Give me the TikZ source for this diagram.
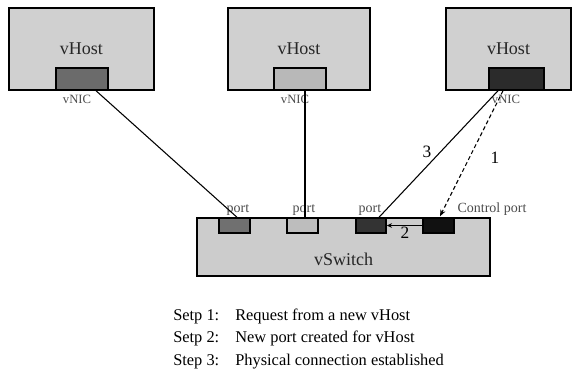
\documentclass[tikz,border=0pt]{standalone}
\usepackage{fontspec}
\setmainfont{Liberation Serif}
\usetikzlibrary{arrows.meta}

\definecolor{hostgray}{HTML}{D0D0D0}
\definecolor{switchgray}{HTML}{CCCCCC}
\definecolor{nicdark}{HTML}{6B6B6B}
\definecolor{niclight}{HTML}{B8B8B8}
\definecolor{nicblack}{HTML}{2B2B2B}
\definecolor{portdark}{HTML}{707070}
\definecolor{portlight}{HTML}{BDBDBD}
\definecolor{portblack}{HTML}{333333}
\definecolor{ctrlblack}{HTML}{111111}

\begin{document}
\begin{tikzpicture}[x=0.75pt, y=-0.75pt, >=Stealth,
    host/.style={draw, line width=1.1pt, fill=hostgray, minimum height=61.5pt, inner sep=0pt, font=\fontsize{13.5}{16}\selectfont, text=black!85},
    nic/.style={draw, line width=1.1pt, minimum width=39pt, minimum height=16.5pt, inner sep=0pt},
    portbox/.style={draw, line width=1.1pt, minimum width=23.25pt, minimum height=11.25pt, inner sep=0pt},
    tag/.style={inner sep=0pt, anchor=base, text=black!70, font=\fontsize{10.5}{12}\selectfont},
    digit/.style={inner sep=0pt, font=\fontsize{13}{15}\selectfont},
    steptext/.style={inner sep=0pt, anchor=base west, font=\fontsize{12.3}{15}\selectfont},
    link/.style={line width=0.8pt}]

        % Fix the page size
        \useasboundingbox (0,0) rectangle (582,379);

        % The three vHosts
        \node[host, minimum width=108.75pt] (hostA) at (81.5,49) {vHost};
        \node[host, minimum width=106.5pt] (hostB) at (299,49) {vHost};
        \node[host, minimum width=93.75pt] (hostC) at (508.5,49) {vHost};

        % vNICs at the bottom of each vHost
        \node[nic, fill=nicdark] (nicA) at (82,79) {};
        \node[nic, fill=niclight] (nicB) at (300,79) {};
        \node[nic, fill=nicblack, minimum width=41.25pt] (nicC) at (516.5,79) {};

        \node[tag, font=\fontsize{9.5}{11}\selectfont] (nicAtag) at (77,103) {vNIC};
        \node[tag, font=\fontsize{9.5}{11}\selectfont] (nicBtag) at (295,103) {vNIC};
        \node[tag, font=\fontsize{9.5}{11}\selectfont] (nicCtag) at (506,103) {vNIC};

        % The vSwitch with its ports
        \node[draw, line width=1.1pt, fill=switchgray, minimum width=219.75pt, minimum height=43.5pt, inner sep=0pt] (switch) at (343.5,247) {};
        \node[inner sep=0pt, anchor=base, font=\fontsize{13.5}{16}\selectfont, text=black!85] (switchtag) at (343.5,265) {vSwitch};

        \node[portbox, fill=portdark] (portA) at (234.5,225.5) {};
        \node[portbox, fill=portlight] (portB) at (302.5,225.5) {};
        \node[portbox, fill=portblack, minimum width=22.5pt] (portC) at (371,225.5) {};
        \node[portbox, fill=ctrlblack] (ctrl) at (438.5,225.5) {};

        \node[tag] (portAtag) at (238,212) {port};
        \node[tag] (portBtag) at (304,212) {port};
        \node[tag] (portCtag) at (370,212) {port};
        \node[tag] (ctrltag) at (492,212) {Control port};

        % Physical connections
        \draw[link] ([shift={(14,0)}]nicA.south) -- ([shift={(2.5,0)}]portA.north);
        \draw[link] ([shift={(5,0)}]nicB.south) -- ([shift={(2.5,0)}]portB.north);
        \draw[link] ([shift={(-18.5,0)}]nicC.south) -- ([shift={(8,0)}]portC.north);

        % Step 1: request to the control port
        \draw[link, dash pattern=on 3pt off 2pt, -{Stealth[length=5pt, width=4pt]}] ([shift={(-13.5,0)}]nicC.south) -- ([shift={(1.5,-1)}]ctrl.north);

        % Step 2: new port
        \draw[link, -{Stealth[length=4pt, width=3.5pt]}] (ctrl.west) -- (portC.east);

        % Step numbers
        \node[digit] (numone) at (495,158) {1};
        \node[digit] (numtwo) at (405,233) {2};
        \node[digit] (numthree) at (427,152) {3};

        % Legend
        \node[steptext] (setpone) at (173,320) {Setp 1:};
        \node[steptext] (stepone) at (235,320) {Request from a new vHost};
        \node[steptext] (setptwo) at (173,342) {Setp 2:};
        \node[steptext] (steptwo) at (235,342) {New port created for vHost};
        \node[steptext] (setpthree) at (173,365) {Step 3:};
        \node[steptext] (stepthree) at (235,365) {Physical connection established};

    \end{tikzpicture}
\end{document}
